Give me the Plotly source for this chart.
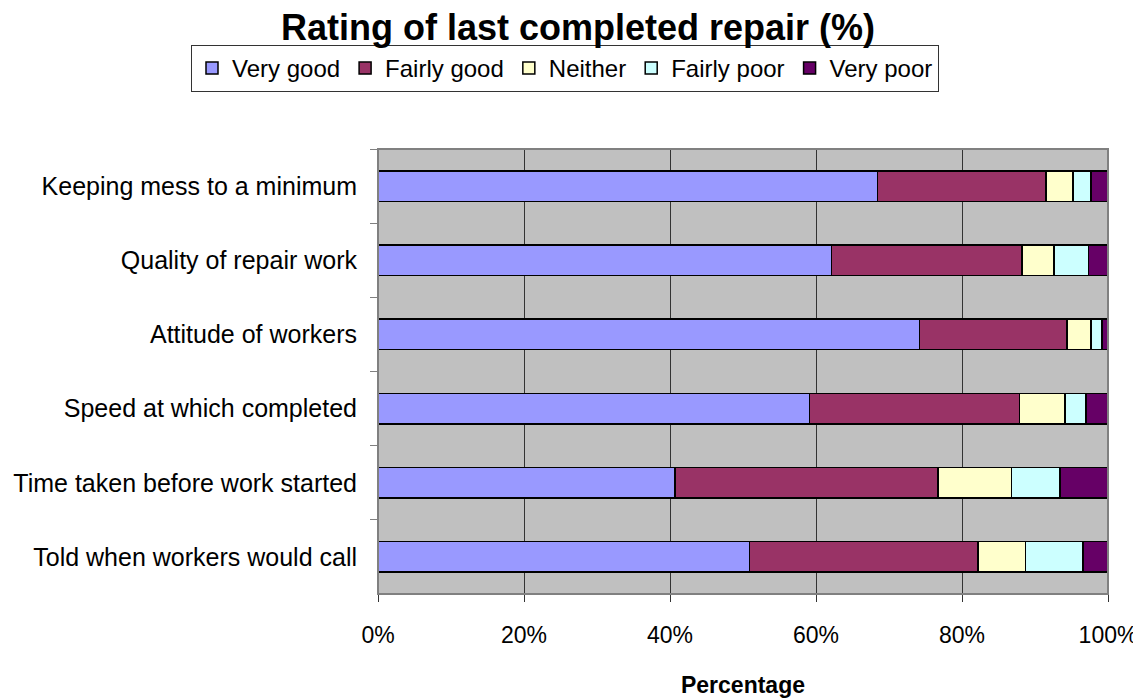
import plotly.graph_objects as go

categories = [
    "Keeping mess to a minimum",
    "Quality of repair work",
    "Attitude of workers",
    "Speed at which completed",
    "Time taken before work started",
    "Told when workers would call",
]
very_good = [68.4, 62.1, 74.2, 59.1, 40.7, 50.9]
fairly_good = [23.1, 26.1, 20.2, 28.8, 36.0, 31.3]
neither = [3.7, 4.4, 3.3, 6.2, 10.1, 6.5]
fairly_poor = [2.5, 4.7, 1.5, 2.9, 6.6, 7.9]
very_poor = [2.3, 2.7, 0.8, 3.0, 6.6, 3.4]

series_names = ["Very good", "Fairly good", "Neither", "Fairly poor", "Very poor"]
series_values = [very_good, fairly_good, neither, fairly_poor, very_poor]
series_colors = ["#9999FF", "#993366", "#FFFFCC", "#CCFFFF", "#660066"]

x_tickvals = [0, 20, 40, 60, 80, 100]
x_ticktext = ["0%", "20%", "40%", "60%", "80%", "100%"]

FONT = "Arial, Liberation Sans, sans-serif"

# page body has an 8px margin; figure sized to fit the window
W, H = 1133, 690
OFF = 8
L, R, T, B = 378 - OFF, W - (1108 - OFF), 149 - OFF, H - (594 - OFF)
PW, PH = W - L - R, H - T - B

fig = go.Figure()
for name, vals, col in zip(series_names, series_values, series_colors):
    fig.add_trace(go.Bar(
        y=categories, x=vals, name=name, orientation="h",
        marker=dict(color=col, line=dict(color="#000000", width=1.5)),
    ))

fig.update_layout(
    width=W, height=H,
    barmode="stack", bargap=0.59,
    paper_bgcolor="white", plot_bgcolor="#C0C0C0",
    margin=dict(l=L, r=R, t=T, b=B, autoexpand=False),
    font=dict(family=FONT, color="black", size=24),
    title=dict(text="<b>Rating of last completed repair (%)</b>",
               font=dict(family=FONT, size=36, color="black"),
               x=(578 - OFF) / W, xanchor="center", xref="container",
               y=1 - (27 - OFF) / H, yanchor="middle", yref="container"),
    legend=dict(orientation="h", xref="paper", yref="paper",
                x=(191 - OFF - L) / PW, xanchor="left",
                y=(T + PH - (45 - OFF)) / PH, yanchor="top",
                bgcolor="white", bordercolor="#333333", borderwidth=1,
                font=dict(family=FONT, size=24, color="black"),
                traceorder="normal"),
    showlegend=True,
)

fig.update_xaxes(
    range=[0, 100], tickvals=x_tickvals, ticktext=x_ticktext,
    showgrid=True, gridcolor="#333333", gridwidth=1,
    showline=True, linecolor="#333333", linewidth=1,
    ticks="outside", ticklen=7, tickcolor="#333333",
    ticklabelstandoff=13, ticklabeloverflow="allow", zeroline=False,
    tickfont=dict(family=FONT, size=23, color="black"),
    title=dict(text="<b>Percentage</b>", font=dict(family=FONT, size=23, color="black"),
               standoff=33),
)
fig.update_yaxes(
    autorange="reversed", tickson="boundaries",
    showgrid=False, showline=True, linecolor="#333333", linewidth=1,
    ticks="outside", ticklen=7, tickcolor="#808080",
    ticklabelstandoff=15,
    tickfont=dict(family=FONT, size=25, color="black"),
)

fig.add_shape(type="rect", xref="paper", yref="paper", x0=0, x1=1, y0=0, y1=1,
              line=dict(color="#808080", width=2), layer="above")

fig.write_html("out.html")
